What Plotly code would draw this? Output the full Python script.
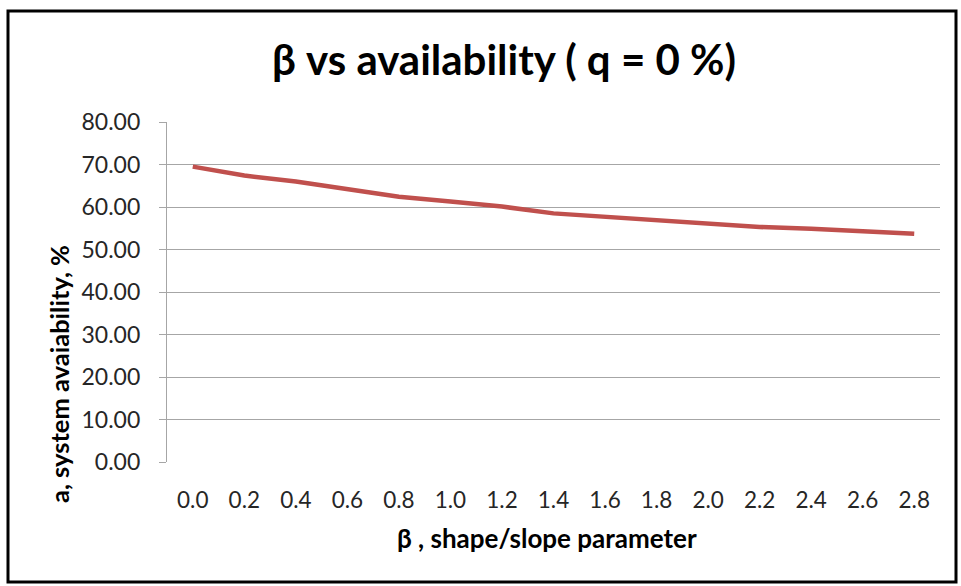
import plotly.graph_objects as go

beta_labels = ["0.0", "0.2", "0.4", "0.6", "0.8", "1.0", "1.2", "1.4",
               "1.6", "1.8", "2.0", "2.2", "2.4", "2.6", "2.8"]
availability = [69.5, 67.4, 66.0, 64.2, 62.4, 61.3, 60.1, 58.5,
                57.7, 56.8, 56.2, 55.3, 54.9, 54.4, 53.7]
y_ticks = [0, 10, 20, 30, 40, 50, 60, 70, 80]

FONT = "Lato"
W, H = 961, 586
L, R, T, B = 167, 21, 122, 124
pw, ph = W - L - R, H - T - B

def px_x(x):
    return (x - L) / pw

def px_y(y):
    return (H - B - y) / ph

fig = go.Figure()
fig.add_trace(go.Scatter(
    x=beta_labels, y=availability, mode="lines",
    line=dict(color="#C0504D", width=4.5),
    showlegend=False,
))

fig.update_layout(
    width=W, height=H,
    margin=dict(l=L, r=R, t=T, b=B),
    paper_bgcolor="white", plot_bgcolor="white",
    font=dict(family=FONT, color="#262626"),
    title=dict(
        text="<b>β vs availability ( q = 0 %)</b>",
        x=504 / W, y=1 - 60 / H, xanchor="center", yanchor="middle",
        font=dict(size=42, family=FONT, color="black"),
    ),
    xaxis=dict(
        type="category", range=[-0.5, 14.5],
        showgrid=False, zeroline=False,
        showline=False, ticks="",
        ticklabelstandoff=22,
        tickfont=dict(size=22.5, family=FONT, color="#262626"),
    ),
    yaxis=dict(
        range=[0, 80], tickvals=y_ticks,
        tickformat=".2f",
        showgrid=True, gridcolor="#A6A6A6", gridwidth=1.3,
        zeroline=False,
        showline=True, linecolor="#A6A6A6", linewidth=1.3,
        ticks="outside", ticklen=7, tickcolor="#A6A6A6",
        ticklabelstandoff=14,
        tickfont=dict(size=23, family=FONT, color="#262626"),
    ),
    annotations=[
        dict(text="<b>β , shape/slope parameter</b>",
             xref="paper", yref="paper",
             x=px_x(547), y=px_y(538), xanchor="center", yanchor="middle",
             showarrow=False,
             font=dict(size=26, family=FONT, color="black")),
        dict(text="<b>a, system avaiability, %</b>",
             xref="paper", yref="paper", textangle=-90,
             x=px_x(59), y=px_y(374), xanchor="center", yanchor="middle",
             showarrow=False,
             font=dict(size=25.5, family=FONT, color="black")),
    ],
    shapes=[dict(
        type="rect", xref="paper", yref="paper",
        x0=px_x(8), x1=px_x(956), y0=px_y(582), y1=px_y(11),
        line=dict(color="black", width=3), fillcolor="rgba(0,0,0,0)",
        layer="above",
    )],
)

fig.write_html("out.html")
